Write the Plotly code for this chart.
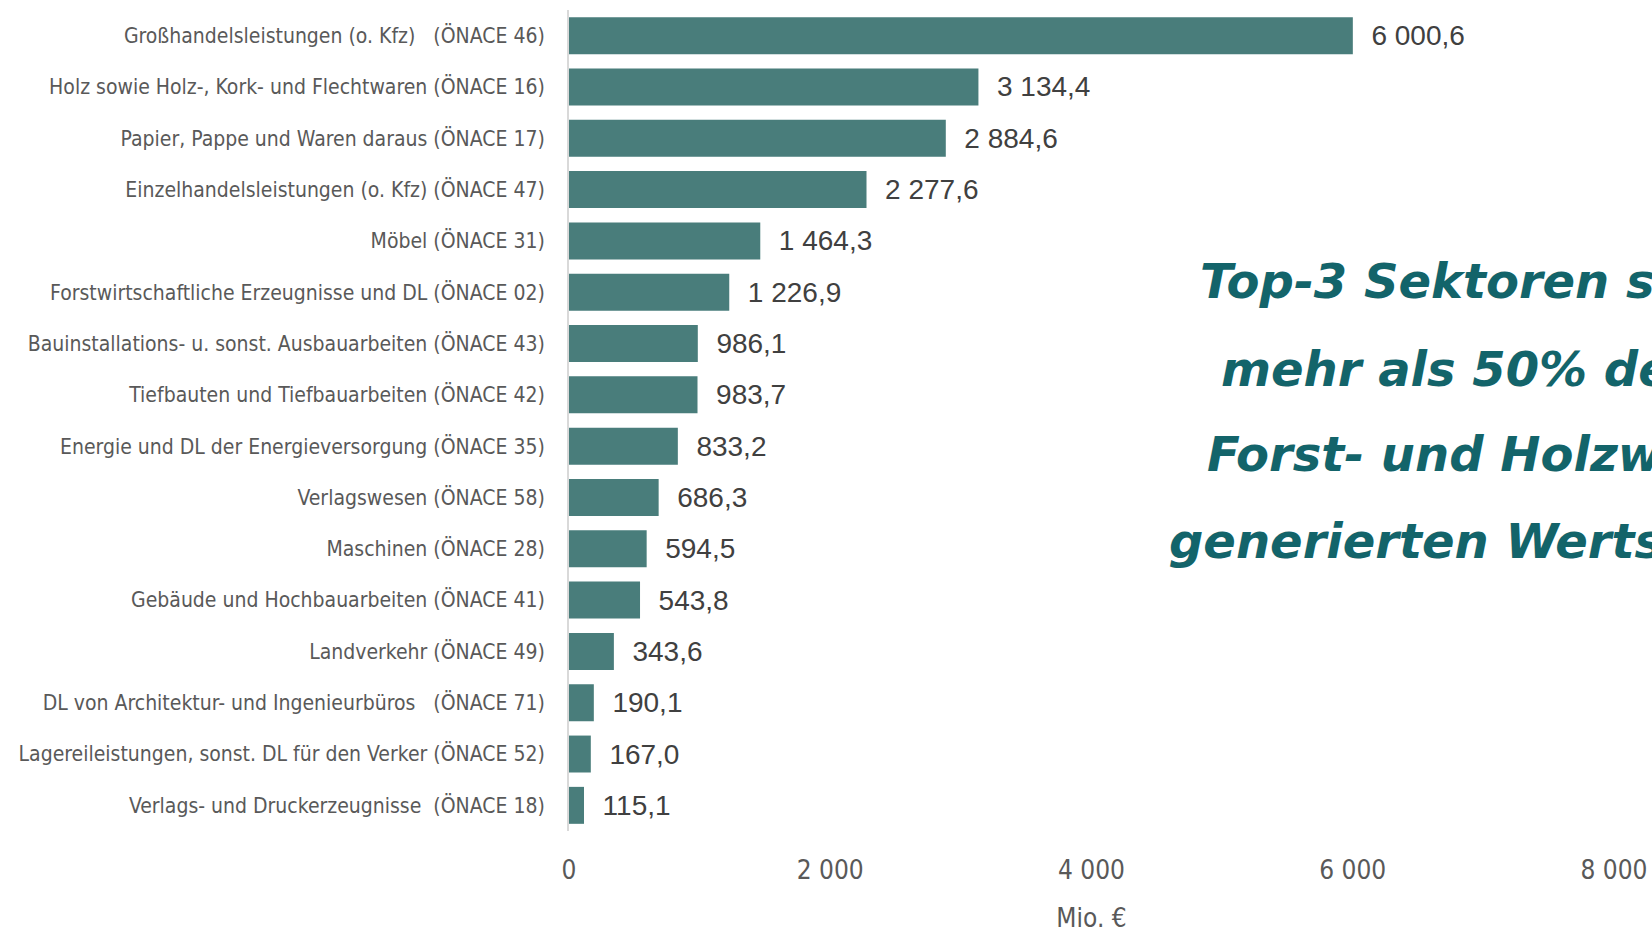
'''
horizontal bar chart: wertschoepfung by sector (Mio. EUR)
'''

import plotly.graph_objects as go

sectors = [
    'Großhandelsleistungen (o. Kfz)   (ÖNACE 46)',
    'Holz sowie Holz-, Kork- und Flechtwaren (ÖNACE 16)',
    'Papier, Pappe und Waren daraus (ÖNACE 17)',
    'Einzelhandelsleistungen (o. Kfz) (ÖNACE 47)',
    'Möbel (ÖNACE 31)',
    'Forstwirtschaftliche Erzeugnisse und DL (ÖNACE 02)',
    'Bauinstallations- u. sonst. Ausbauarbeiten (ÖNACE 43)',
    'Tiefbauten und Tiefbauarbeiten (ÖNACE 42)',
    'Energie und DL der Energieversorgung (ÖNACE 35)',
    'Verlagswesen (ÖNACE 58)',
    'Maschinen (ÖNACE 28)',
    'Gebäude und Hochbauarbeiten (ÖNACE 41)',
    'Landverkehr (ÖNACE 49)',
    'DL von Architektur- und Ingenieurbüros   (ÖNACE 71)',
    'Lagereileistungen, sonst. DL für den Verker (ÖNACE 52)',
    'Verlags- und Druckerzeugnisse  (ÖNACE 18)',
]

values = [6000.6, 3134.4, 2884.6, 2277.6, 1464.3, 1226.9, 986.1, 983.7,
          833.2, 686.3, 594.5, 543.8, 343.6, 190.1, 167.0, 115.1]

x_ticks = [0, 2000, 4000, 6000, 8000]

note_lines = [
    'Top-3 Sektoren sind für',
    'mehr als 50% der in der',
    'Forst- und Holzwirtschaft',
    'generierten Wertschöpfung',
]

W, H = 1652, 933
L, R, T, B = 569, 38, 10, 102

narrow = 'DejaVu Sans Condensed, DejaVu Sans, sans-serif'

data = go.Bar(
    x=values,
    y=sectors,
    orientation='h',
    marker_color='#497D7B',
    marker_line_width=0,
    texttemplate='  %{x:,.1f}',
    textposition='outside',
    textfont=dict(family='Liberation Sans, Arial, sans-serif', size=28, color='#404040'),
    cliponaxis=False,
    showlegend=False,
)

layout = go.Layout(
    width=W,
    height=H,
    margin=dict(l=L, r=R, t=T, b=B, autoexpand=False),
    separators=', ',
    paper_bgcolor='white',
    plot_bgcolor='white',
    bargap=0.28,
    xaxis=dict(
        range=[0, 8000],
        tickvals=x_ticks,
        tickformat=',d',
        showgrid=False,
        zeroline=False,
        showline=False,
        ticklabelstandoff=21,
        tickfont=dict(family=narrow, size=26, color='#595959'),
        title=dict(text='Mio. €', font=dict(family=narrow, size=26, color='#595959'), standoff=38),
    ),
    yaxis=dict(
        autorange='reversed',
        showgrid=False,
        zeroline=False,
        showline=True,
        linecolor='#D9D9D9',
        linewidth=2,
        ticklabelstandoff=18,
        tickfont=dict(family=narrow, size=21, color='#595959'),
    ),
)

fig = go.Figure(data=data, layout=layout)

# callout text, partly running off the right edge like in the slide
pw, ph = W - L - R, H - T - B
line_left = [1198, 1219, 1205, 1167]
line_mid = [281, 369, 454, 541]
for txt, lx, my in zip(note_lines, line_left, line_mid):
    fig.add_annotation(
        text=txt,
        xref='paper', yref='paper',
        x=(lx - L) / pw, y=1 - (my - T) / ph,
        xanchor='left', yanchor='middle',
        showarrow=False,
        font=dict(family='DejaVu Sans', size=48, color='#13646A', weight='bold', style='italic'),
    )

# drop the default body margin so the figure fills the window exactly
fig.write_html(
    'out.html',
    config={'displayModeBar': False},
    post_script="document.body.style.margin = '0';",
)
